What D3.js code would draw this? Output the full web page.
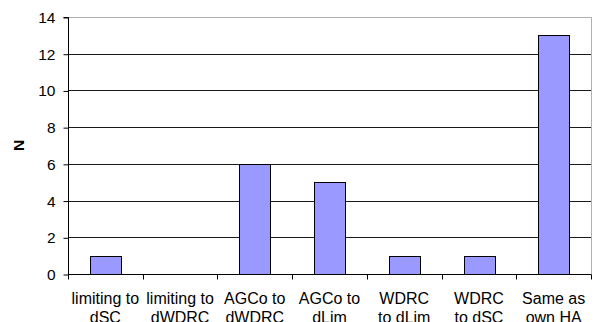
<!DOCTYPE html>
<html><head><meta charset="utf-8">
<script src="https://cdn.jsdelivr.net/npm/d3@7"></script>
<style>body{margin:0;background:#fff;overflow:hidden}svg{display:block}</style>
</head><body>
<svg id="chart" width="600" height="322"></svg>
<script>
const categories = [
  ["limiting to", "dSC"],
  ["limiting to", "dWDRC"],
  ["AGCo to", "dWDRC"],
  ["AGCo to", "dLim"],
  ["WDRC", "to dLim"],
  ["WDRC", "to dSC"],
  ["Same as", "own HA"]
];
const values = [1, 0, 6, 5, 1, 1, 13];
const yTicks = [0, 2, 4, 6, 8, 10, 12, 14];
const yTitle = "N";

const W = 600, H = 322;
const m = {left: 68, top: 17, right: 9, bottom: 48};
const svg = d3.select("#chart");
const font = "Liberation Sans, Arial, sans-serif";

const x = d3.scaleBand().domain(d3.range(categories.length))
  .range([m.left, W - m.right]).paddingInner(0.59).paddingOuter(0.295);
const xb = d3.scaleBand().domain(d3.range(categories.length))
  .range([m.left, W - m.right]);
const y = d3.scaleLinear().domain([0, 14]).range([H - m.bottom, m.top]);

// plot border (gray)
svg.append("rect").attr("x", m.left + 0.5).attr("y", y(14) + 0.5)
  .attr("width", W - m.right - m.left).attr("height", y(0) - y(14))
  .attr("fill", "none").attr("stroke", "#b0b0b0");

// gridlines
svg.append("g").selectAll("line").data(yTicks.filter(d => d > 0 && d < 14)).join("line")
  .attr("x1", m.left).attr("x2", W - m.right)
  .attr("y1", d => Math.round(y(d)) + 0.5).attr("y2", d => Math.round(y(d)) + 0.5)
  .attr("stroke", "#1a1a1a").attr("shape-rendering", "crispEdges");

// bars
svg.append("g").selectAll("rect").data(values).join("rect")
  .attr("x", (d, i) => Math.round(x(i)) + 0.5)
  .attr("y", d => Math.round(y(d)) + 0.5)
  .attr("width", Math.round(x.bandwidth()))
  .attr("height", d => Math.round(y(0)) - Math.round(y(d)))
  .attr("fill", "#9999ff").attr("stroke", "#000").attr("stroke-width", 1)
  .attr("display", d => d === 0 ? "none" : null);

// y axis
const yAxis = d3.axisLeft(y).tickValues(yTicks).tickSize(5).tickPadding(8);
const gy = svg.append("g").attr("transform", `translate(${m.left + 0.5},0.5)`).call(yAxis);
gy.selectAll("text").attr("font-family", font).attr("font-size", 15.5).attr("fill", "#000");
gy.selectAll("line,path").attr("stroke", "#000");
gy.select(".domain").attr("d", `M-5,${y(14)}H0V${y(0)}`);

// x axis
const gx = svg.append("g").attr("transform", `translate(0,${Math.round(y(0)) + 0.5})`);
gx.append("line").attr("x1", m.left).attr("x2", W - m.right).attr("stroke", "#000");
const bounds = d3.range(categories.length + 1).map(i => i < categories.length ? xb(i) : xb(i - 1) + xb.bandwidth());
gx.selectAll("line.tick").data(bounds).join("line").attr("class", "tick")
  .attr("x1", d => Math.round(d) + 0.5).attr("x2", d => Math.round(d) + 0.5)
  .attr("y1", 0).attr("y2", 5).attr("stroke", "#000");
const lbl = gx.selectAll("text.cat").data(categories).join("text").attr("class", "cat")
  .attr("text-anchor", "middle").attr("font-family", font).attr("font-size", 16).attr("fill", "#000");
lbl.selectAll("tspan").data((d, i) => d.map(s => ({s, i}))).join("tspan")
  .attr("x", d => xb(d.i) + xb.bandwidth() / 2)
  .attr("y", (d, j) => 29.5 + j * 19)
  .text(d => d.s);

// y title
svg.append("text").attr("transform", `translate(23.5,${(y(0) + y(14)) / 2}) rotate(-90)`)
  .attr("text-anchor", "middle").attr("font-family", font).attr("font-weight", "bold")
  .attr("font-size", 15.5).text(yTitle);
</script>
</body></html>
